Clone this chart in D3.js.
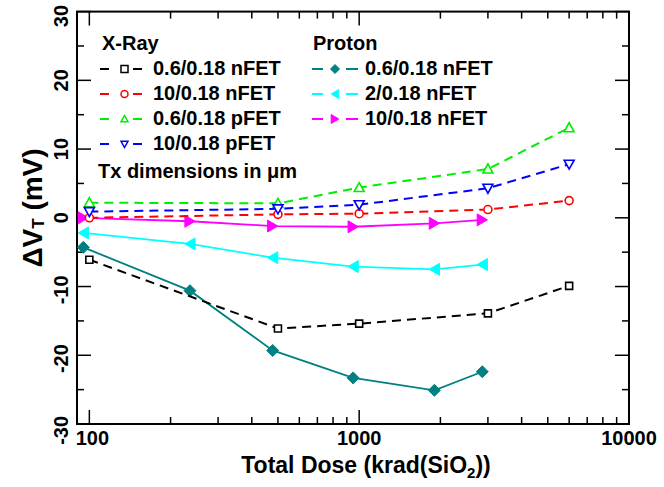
<!DOCTYPE html>
<html>
<head>
<meta charset="utf-8">
<script src="https://cdn.jsdelivr.net/npm/d3@7"></script>
<style>
  html, body { margin: 0; padding: 0; background: #fff; }
  svg text { font-family: "Liberation Sans", Arial, sans-serif; font-weight: bold; fill: #000; }
</style>
</head>
<body>
<svg id="chart" width="664" height="487"></svg>
<script>
// ---- data ----
const xrayDose = [100, 500, 1000, 3000, 6000];
const protonDose = [95, 236, 478, 950, 1900, 2860];

const xrayN06 = [-6.1, -16.1, -15.4, -13.9, -9.9];
const xrayN10 = [0.0, 0.5, 0.6, 1.2, 2.5];
const xrayP06 = [2.2, 2.1, 4.4, 7.1, 13.1];
const xrayP10 = [0.9, 1.3, 1.9, 4.3, 7.8];

const protonN06 = [-4.3, -10.6, -19.3, -23.3, -25.1, -22.4];
const protonN2 = [-2.2, -3.8, -5.8, -7.1, -7.5, -6.8];
const protonN10 = [0.0, -0.5, -1.2, -1.3, -0.8, -0.3];

const xrayLabels = ['0.6/0.18 nFET', '10/0.18 nFET', '0.6/0.18 pFET', '10/0.18 pFET'];
const protonLabels = ['0.6/0.18 nFET', '2/0.18 nFET', '10/0.18 nFET'];

const xMajor = [100, 1000, 10000];
const xMinor = [200, 300, 400, 500, 600, 700, 800, 900, 2000, 3000, 4000, 5000, 6000, 7000, 8000, 9000];
const yMajor = [-30, -20, -10, 0, 10, 20, 30];
const yMinor = [-25, -15, -5, 5, 15, 25];

// ---- styles ----
const xrayColors = ['#000000', '#ff0000', '#00ee00', '#0000ff'];
const xrayMarks = ['square', 'circle', 'up', 'down'];
const protonColors = ['#008080', '#00ffff', '#ff00ff'];
const protonMarks = ['diamond', 'left', 'right'];

const svg = d3.select('#chart');

const L = 77, R = 629, T = 11.6, B = 424;
const x = d3.scaleLog().domain([90, 10000]).range([L, R]);
const y = d3.scaleLinear().domain([-30, 30]).range([B, T]);

// marker shapes centred on 0,0
function markPath(type, s) {
	const h = s / 2;
	switch (type) {
		case 'square': return `M${-h},${-h}H${h}V${h}H${-h}Z`;
		case 'circle': return `M${h},0A${h},${h} 0 1,1 ${-h},0A${h},${h} 0 1,1 ${h},0Z`;
		case 'up': return `M0,${-h}L${h},${h * 0.8}L${-h},${h * 0.8}Z`;
		case 'down': return `M0,${h}L${h},${-h * 0.8}L${-h},${-h * 0.8}Z`;
		case 'diamond': return `M0,${-h}L${h},0L0,${h}L${-h},0Z`;
		case 'left': return `M${-h * 0.85},0L${h * 0.85},${-h}L${h * 0.85},${h}Z`;
		case 'right': return `M${h * 0.85},0L${-h * 0.85},${-h}L${-h * 0.85},${h}Z`;
	}
}

function drawSeries(doses, vals, color, mark, dashed, size) {
	const pts = doses.map((d, i) => [x(d), y(vals[i])]);
	svg.append('path')
		.attr('d', d3.line()(pts))
		.attr('fill', 'none')
		.attr('stroke', color)
		.attr('stroke-width', dashed ? 2 : 1.8)
		.attr('stroke-dasharray', dashed ? '9,6' : null);
	const filled = !dashed;
	svg.selectAll(null).data(pts).enter()
		.append('path')
		.attr('transform', (p) => `translate(${p[0]},${p[1]})`)
		.attr('d', markPath(mark, size))
		.attr('fill', filled ? color : '#fff')
		.attr('stroke', color)
		.attr('stroke-width', filled ? 1 : 1.6);
}

// frame
svg.append('rect')
	.attr('x', L).attr('y', T)
	.attr('width', R - L).attr('height', B - T)
	.attr('fill', 'none').attr('stroke', '#000').attr('stroke-width', 2);

// ticks (inward, all four sides)
const tickG = svg.append('g').attr('stroke', '#000').attr('stroke-width', 1.5);
xMajor.concat(xMinor).forEach((v) => {
	const len = xMajor.includes(v) ? 14 : 7;
	tickG.append('line').attr('x1', x(v)).attr('x2', x(v)).attr('y1', B).attr('y2', B - len);
	tickG.append('line').attr('x1', x(v)).attr('x2', x(v)).attr('y1', T).attr('y2', T + len);
});
yMajor.concat(yMinor).forEach((v) => {
	const len = yMajor.includes(v) ? 14 : 7;
	tickG.append('line').attr('y1', y(v)).attr('y2', y(v)).attr('x1', L).attr('x2', L + len);
	tickG.append('line').attr('y1', y(v)).attr('y2', y(v)).attr('x1', R).attr('x2', R - len);
});

// x tick labels
xMajor.forEach((v, i) => {
	svg.append('text')
		.attr('x', x(v) + (i === 0 ? 3 : 0))
		.attr('y', 445)
		.attr('text-anchor', 'middle')
		.style('font-size', '20px')
		.text(String(v));
});

// y tick labels (rotated, digits centred on tick)
yMajor.forEach((v) => {
	let cy = y(v);
	if (v === 30) cy += 4.5;
	if (v === -30) cy += 3;
	const g = svg.append('g').attr('transform', `translate(68,${cy}) rotate(-90)`);
	g.append('text')
		.attr('text-anchor', 'middle')
		.style('font-size', '20px')
		.text(String(Math.abs(v)));
	if (v < 0) {
		const w = String(Math.abs(v)).length * 0.556 * 20;
		g.append('text')
			.attr('x', -w / 2)
			.attr('text-anchor', 'end')
			.style('font-size', '20px')
			.text('-');
	}
});

// axis titles
const xt = svg.append('text')
	.attr('x', 366).attr('y', 473)
	.attr('text-anchor', 'middle')
	.style('font-size', '23px');
xt.append('tspan').text('Total Dose (krad(SiO');
xt.append('tspan').attr('dy', 5).style('font-size', '15px').text('2');
xt.append('tspan').attr('dy', -5).text('))');

const yt = svg.append('text')
	.attr('transform', 'translate(42,208) rotate(-90)')
	.attr('text-anchor', 'middle')
	.style('font-size', '28px');
yt.append('tspan').text('ΔV');
yt.append('tspan').attr('dy', 2).style('font-size', '17px').text('T');
yt.append('tspan').attr('dy', -2).text(' (mV)');

// series
const xrayVals = [xrayN06, xrayN10, xrayP06, xrayP10];
const protonVals = [protonN06, protonN2, protonN10];
const xraySizes = [7, 8, 10, 10];
const protonSizes = [12, 12, 12];

protonVals.forEach((vals, i) => drawSeries(protonDose, vals, protonColors[i], protonMarks[i], false, protonSizes[i]));
xrayVals.forEach((vals, i) => drawSeries(xrayDose, vals, xrayColors[i], xrayMarks[i], true, xraySizes[i]));

// legend
function legendRow(x0, x1, x2, x3, mx, tx, base, color, mark, size, filled, label) {
	const ly = base - 6;
	[[x0, x1], [x2, x3]].forEach((s) => {
		svg.append('line')
			.attr('x1', s[0]).attr('x2', s[1]).attr('y1', ly).attr('y2', ly)
			.attr('stroke', color).attr('stroke-width', 2);
	});
	svg.append('path')
		.attr('transform', `translate(${mx},${ly})`)
		.attr('d', markPath(mark, size))
		.attr('fill', filled ? color : '#fff')
		.attr('stroke', color)
		.attr('stroke-width', filled ? 1 : 1.5);
	svg.append('text').attr('x', tx).attr('y', base).style('font-size', '20px').text(label);
}

svg.append('text').attr('x', 102).attr('y', 50).style('font-size', '20px').text('X-Ray');
xrayLabels.forEach((lab, i) => {
	legendRow(100, 109, 133, 142, 124.5, 153, 75 + i * 25, xrayColors[i], xrayMarks[i], 7, false, lab);
});
svg.append('text').attr('x', 98).attr('y', 178).style('font-size', '20px').text('Tx dimensions in μm');

svg.append('text').attr('x', 313).attr('y', 50).style('font-size', '20px').text('Proton');
protonLabels.forEach((lab, i) => {
	legendRow(312, 323, 346, 358, 335, 365, 75 + i * 25, protonColors[i], protonMarks[i], 9, true, lab);
});
</script>
</body>
</html>
